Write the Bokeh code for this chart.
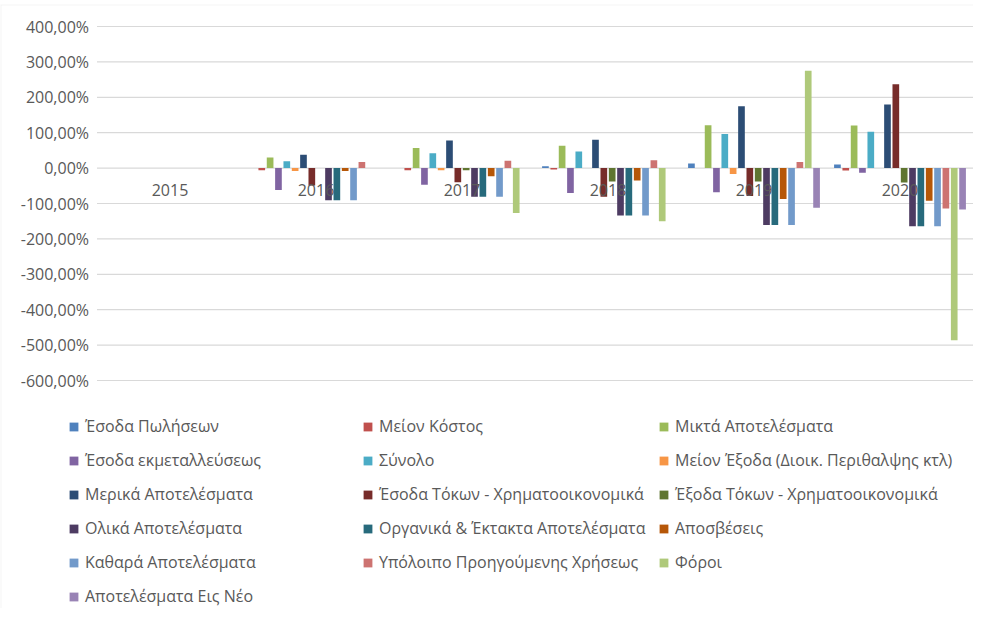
import numpy as np
from bokeh.plotting import figure
from bokeh.models import ColumnDataSource, Range1d, Legend, LegendItem, BoxAnnotation
from bokeh.transform import dodge
from bokeh.core.properties import value
from bokeh.embed import file_html
from bokeh.resources import INLINE

years = ["2015", "2016", "2017", "2018", "2019", "2020"]

series_names = [
    "Έσοδα Πωλήσεων",
    "Μείον Κόστος",
    "Μικτά Αποτελέσματα",
    "Έσοδα εκμεταλλεύσεως",
    "Σύνολο",
    "Μείον Έξοδα (Διοικ. Περιθαλψης κτλ)",
    "Μερικά Αποτελέσματα",
    "Έσοδα Τόκων - Χρηματοοικονομικά",
    "Έξοδα Τόκων - Χρηματοοικονομικά",
    "Ολικά Αποτελέσματα",
    "Οργανικά & Έκτακτα Αποτελέσματα",
    "Αποσβέσεις",
    "Καθαρά Αποτελέσματα",
    "Υπόλοιπο Προηγούμενης Χρήσεως",
    "Φόροι",
    "Αποτελέσματα Εις Νέο",
]

esoda_poliseon = [0, 0, 0, 5, 13, 10]
meion_kostos = [0, -6, -6, -4, 0, -7]
mikta = [0, 30, 57, 63, 121, 120]
esoda_ekmet = [0, -62, -47, -70, -68, -13]
synolo = [0, 19, 42, 47, 96, 103]
meion_exoda = [0, -8, -6, 0, -17, 0]
merika = [0, 38, 78, 80, 175, 180]
esoda_tokon = [0, -49, -40, -81, -79, 237]
exoda_tokon = [0, 0, -6, -38, -38, -41]
olika = [0, -91, -81, -134, -161, -164]
organika = [0, -91, -81, -134, -161, -164]
aposveseis = [0, -8, -23, -35, -87, -92]
kathara = [0, -91, -81, -134, -161, -164]
ypoloipo = [0, 17, 21, 22, 17, -114]
foroi = [0, 0, -127, -150, 275, -486]
eis_neo = [0, 0, 0, 0, -112, -117]

series_values = [esoda_poliseon, meion_kostos, mikta, esoda_ekmet, synolo, meion_exoda,
                 merika, esoda_tokon, exoda_tokon, olika, organika, aposveseis,
                 kathara, ypoloipo, foroi, eis_neo]

colors = ["#4F81BD", "#C0504D", "#9BBB59", "#8064A2", "#4BACC6", "#F79646",
          "#2C4D75", "#772C2A", "#5F7530", "#4D3B62", "#276A7C", "#B65708",
          "#729ACA", "#CD7371", "#AFC97A", "#9983B5"]

y_ticks = [400, 300, 200, 100, 0, -100, -200, -300, -400, -500, -600]
y_tick_labels = ["400,00%", "300,00%", "200,00%", "100,00%", "0,00%", "-100,00%",
                 "-200,00%", "-300,00%", "-400,00%", "-500,00%", "-600,00%"]

data = {"idx": list(range(len(years))), "year": years, "zero": [0] * len(years)}
keys = []
for i, vals in enumerate(series_values):
    k = f"s{i}"
    keys.append(k)
    data[k] = vals
source = ColumnDataSource(data)

FONT = "Open Sans"
GRAY = "#595959"

# layout (pixels): the plot frame covers the whole chart area, incl. labels and legend
ncat = len(years)
cat_lo, cat_hi = -0.5, ncat - 0.5
y_top, y_bot = max(y_ticks), min(y_ticks)
px_per_cat = 146.0
grid_left_px = 96.5     # gridded area starts this far right of the frame's left edge
frame_w = 973
grid_top_px = 22.0      # top gridline this far below the frame's top edge
grid_h_px = 354.0
frame_h = 604
x_min = cat_lo - grid_left_px / px_per_cat
x_max = x_min + frame_w / px_per_cat
u_per_px = (y_top - y_bot) / grid_h_px
y_max = y_top + grid_top_px * u_per_px
y_min = y_max - frame_h * u_per_px

p = figure(output_backend="svg", toolbar_location=None,
           frame_width=frame_w, frame_height=frame_h,
           min_border_left=0, min_border_right=0, min_border_top=4, min_border_bottom=0,
           x_range=Range1d(x_min, x_max), y_range=Range1d(y_min, y_max))
p.xaxis.visible = False
p.yaxis.visible = False
p.xgrid.visible = False
p.ygrid.visible = False
p.outline_line_color = None

# chart-area border (left and top edges visible)
p.add_layout(BoxAnnotation(left=x_min, top=y_max, right=x_max + 10, bottom=y_min - 1000,
                           fill_alpha=0, line_color="#D9D9D9", line_width=2))

# gridlines and value labels
grid_src = ColumnDataSource({"y": y_ticks, "lab": y_tick_labels,
                             "x0": [cat_lo] * len(y_ticks), "x1": [cat_hi] * len(y_ticks)})
p.segment(x0="x0", x1="x1", y0="y", y1="y", source=grid_src,
          line_color="#D9D9D9", line_width=1.2)
p.text(x="x0", y="y", text="lab", source=grid_src, text_align="right",
       text_baseline="middle", x_offset=-8, text_font=value(FONT),
       text_font_size="16px", text_color=GRAY)

n = len(series_values)
step = 1.0 / (n + 1.5)
renderers = []
for i, k in enumerate(keys):
    off = (i - (n - 1) / 2) * step
    r = p.vbar(x=dodge("idx", off), top=k, bottom=0, width=step * 0.8,
               source=source, fill_color=colors[i], line_color=None)
    renderers.append(r)

p.text(x="idx", y="zero", text="year", source=source, text_align="center",
       text_baseline="middle", y_offset=22, text_font=value(FONT),
       text_font_size="16px", text_color=GRAY)

cols = [[0, 3, 6, 9, 12, 15], [1, 4, 7, 10, 13], [2, 5, 8, 11, 14]]
col_x = [68, 362, 658]
legend_top = 410
row_h, row_gap = 24, 10
for c, idxs in enumerate(cols):
    items = [LegendItem(label=series_names[i], renderers=[renderers[i]]) for i in idxs]
    h = len(idxs) * row_h + (len(idxs) - 1) * row_gap
    lg = Legend(items=items, location=(col_x[c], frame_h - legend_top - h),
                orientation="vertical",
                glyph_width=11, glyph_height=11, label_height=row_h, spacing=row_gap,
                label_standoff=6, padding=0, margin=0, border_line_color=None,
                background_fill_alpha=0, label_text_font=FONT,
                label_text_font_size="16px", label_text_color=GRAY,
                label_text_baseline="middle")
    p.add_layout(lg, "center")

open("out.html", "w").write(file_html(p, INLINE))
